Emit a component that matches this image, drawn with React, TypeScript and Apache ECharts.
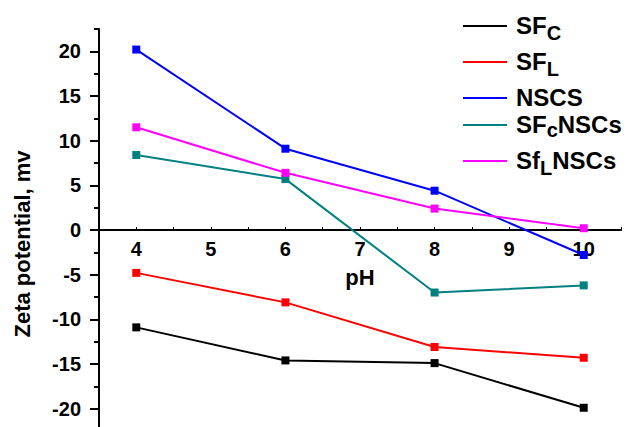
import React, { useEffect, useRef } from "react";
import * as echarts from "echarts";

const phValues = [4, 6, 8, 10];
const seriesNames = ["SFC", "SFL", "NSCS", "SFcNSCs", "SfLNSCs"];
const sfcValues = [-10.9, -14.6, -14.9, -19.9];
const sflValues = [-4.8, -8.1, -13.1, -14.3];
const nscsValues = [20.2, 9.1, 4.4, -2.8];
const sfcNscsValues = [8.4, 5.7, -7.0, -6.2];
const sflNscsValues = [11.5, 6.4, 2.4, 0.2];
const seriesColors = ["#000000", "#ff0000", "#0000ff", "#008080", "#ff00ff"];
const legendLabels = [
  "{m|SF}{s|C}",
  "{m|SF}{s|L}",
  "{m|NSCS}",
  "{m|SF}{c|c}{m|NSCs}",
  "{m|Sf}{s|L}{m|NSCs}",
];
const yTickValues = [-20, -15, -10, -5, 0, 5, 10, 15, 20];

const FONT = "'Liberation Sans', Arial, sans-serif";

export default function App() {
  const ref = useRef<HTMLDivElement>(null);
  useEffect(() => {
    const chart = echarts.init(ref.current!, null, { renderer: "svg" });
    const allValues = [sfcValues, sflValues, nscsValues, sfcNscsValues, sflNscsValues];
    const legendLineY = [25, 61, 97, 124, 160];
    const rich = {
      m: { fontSize: 24, fontWeight: "bold", fontFamily: FONT, color: "#000", lineHeight: 26, verticalAlign: "top" },
      s: { fontSize: 20, fontWeight: "bold", fontFamily: FONT, color: "#000", lineHeight: 26, verticalAlign: "top", padding: [10, 0, 0, 0] },
      c: { fontSize: 20, fontWeight: "bold", fontFamily: FONT, color: "#000", lineHeight: 26, verticalAlign: "top", padding: [8, 0, 0, 0] },
    };
    chart.setOption({
      animation: false,
      backgroundColor: "#ffffff",
      textStyle: { fontFamily: FONT },
      legend: seriesNames.map((n, i) => ({
        data: [n],
        left: 463,
        top: legendLineY[i] - 12,
        padding: 0,
        orient: "vertical",
        icon: "rect",
        itemWidth: 44,
        itemHeight: 2,
        formatter: () => legendLabels[i],
        textStyle: { rich, padding: [0, 0, 0, 4] },
      })),
      grid: { left: 99, top: 29, width: 522, height: 402, containLabel: false, outerBoundsMode: "none" },
      xAxis: {
        type: "value",
        min: 3.5,
        max: 10.5,
        interval: 0.5,
        position: "bottom",
        offset: -201,
        name: "pH",
        nameLocation: "middle",
        nameGap: 36,
        nameTextStyle: { fontSize: 22, fontWeight: "bold", color: "#000", fontFamily: FONT },
        axisLine: { onZero: false, lineStyle: { color: "#000", width: 2 } },
        axisTick: { inside: true, length: 3, lineStyle: { color: "#000", width: 1 } },
        axisLabel: {
          fontSize: 20,
          fontWeight: "bold",
          color: "#000",
          margin: 9,
          fontFamily: FONT,
          formatter: (v: number) => (Number.isInteger(v) ? String(v) : ""),
        },
        splitLine: { show: false },
      },
      yAxis: [
        {
          type: "value",
          min: -22.5,
          max: 22.5,
          interval: 2.5,
          name: "Zeta potential, mv",
          nameLocation: "middle",
          nameRotate: 90,
          nameGap: 66,
          nameTextStyle: { fontSize: 22, fontWeight: "bold", color: "#000", fontFamily: FONT, padding: [0, 28, 0, 0] },
          axisLine: { show: true, onZero: false, lineStyle: { color: "#000", width: 2 } },
          axisTick: { show: true, length: 9, customValues: yTickValues, lineStyle: { color: "#000", width: 2 } },
          axisLabel: {
            fontSize: 20,
            fontWeight: "bold",
            color: "#000",
            margin: 18,
            fontFamily: FONT,
            customValues: yTickValues,
          },
          splitLine: { show: false },
        },
        {
          type: "value",
          min: -22.5,
          max: 22.5,
          interval: 2.5,
          position: "left",
          axisLine: { show: false, onZero: false },
          axisTick: { show: true, length: 5, lineStyle: { color: "#000", width: 2 } },
          axisLabel: { show: false },
          splitLine: { show: false },
        },
      ],
      series: seriesNames.map((n, i) => ({
        name: n,
        type: "line",
        yAxisIndex: 0,
        data: phValues.map((p, j) => [p, allValues[i][j]]),
        symbol: "rect",
        symbolSize: 8,
        itemStyle: { color: seriesColors[i] },
        lineStyle: { color: seriesColors[i], width: 2 },
      })),
    });
    return () => chart.dispose();
  }, []);
  return (
    <div
      ref={ref}
      style={{ position: "fixed", left: 0, top: 0, width: 630, height: 427 }}
    />
  );
}
